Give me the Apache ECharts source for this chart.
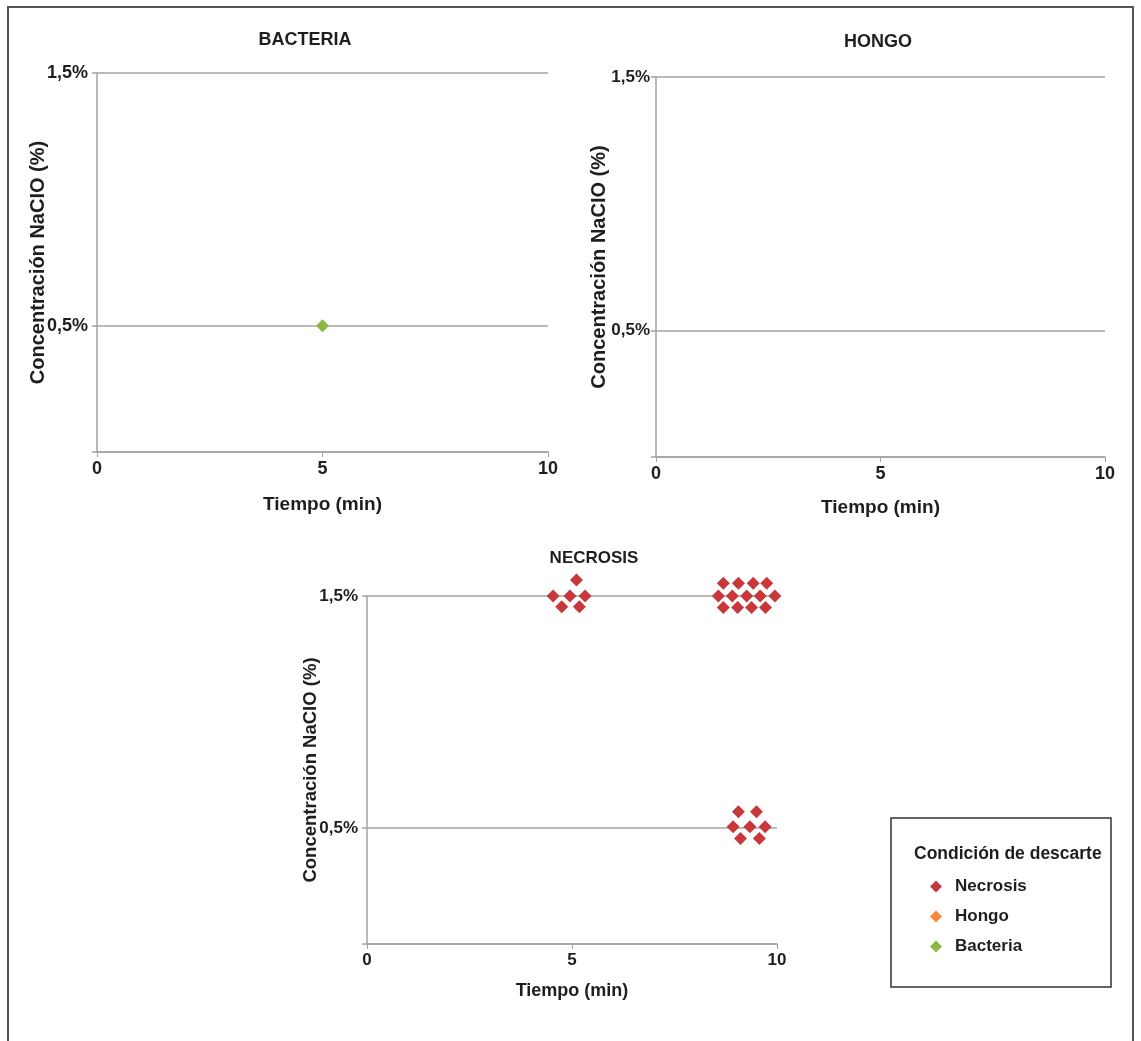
<!DOCTYPE html>
<html>
<head>
<meta charset="utf-8">
<script src="https://cdn.jsdelivr.net/npm/echarts@6/dist/echarts.min.js"></script>
<style>
html,body{margin:0;padding:0;background:#fff;}
#chart{width:1141px;height:1041px;}
</style>
</head>
<body>
<div id="chart"></div>
<script>
// ---- data ----
const panelTitles = ['BACTERIA', 'HONGO', 'NECROSIS'];
const seriesNames = ['Necrosis', 'Hongo', 'Bacteria'];
const xTickLabels = ['0', '5', '10'];
const yTickValues = [0.5, 1.5];
const yTickLabels = ['0,5%', '1,5%'];
const xAxisTitle = 'Tiempo (min)';
const yAxisTitle = 'Concentración NaCIO (%)';
const legendTitle = 'Condición de descarte';

const bacteriaTime = [5];
const bacteriaConc = [0.5];

const hongoTime = [];
const hongoConc = [];

// jittered necrosis observations (time, concentration)
const necrosisTime = [
  5.11, 4.54, 4.95, 5.32, 4.75, 5.18,
  8.69, 9.06, 9.42, 9.75,
  8.57, 8.91, 9.26, 9.59, 9.95,
  8.69, 9.04, 9.38, 9.72,
  9.06, 9.50,
  8.93, 9.34, 9.71,
  9.11, 9.57
];
const necrosisConc = [
  1.569, 1.5, 1.5, 1.5, 1.454, 1.454,
  1.555, 1.555, 1.555, 1.555,
  1.5, 1.5, 1.5, 1.5, 1.5,
  1.45, 1.45, 1.45, 1.45,
  0.57, 0.57,
  0.505, 0.505, 0.505,
  0.455, 0.455
];

const colors = { Necrosis: '#c8383b', Hongo: '#f5883a', Bacteria: '#8ab83f' };

// ---- chart ----
const FONT = '"Liberation Sans", Arial, sans-serif';
const AXIS_COLOR = '#a3a3a3';
const TEXT_COLOR = '#1e1e1e';

function zip(a, b) { return a.map((v, i) => [v, b[i]]); }

const grids = [
  { left: 97, top: 73, width: 451, height: 379 },
  { left: 656, top: 77, width: 449, height: 380 },
  { left: 367, top: 596, width: 410, height: 348 }
];
const yNameGaps = [49, 47, 47];
const xNameGaps = [43, 41, 38];
const yNameSizes = [20, 20, 18.5];
const xNameSizes = [19, 19, 18];
const tickSizes = [18, 18, 17];
const yTickSizes = [18, 17, 17];
const yLabelMargins = [9, 6, 9];
const titleSizes = [18, 18, 17];

const xAxes = grids.map((g, i) => ({
  gridIndex: i, type: 'value', min: 0, max: 10, interval: 5,
  axisLine: { show: true, lineStyle: { color: AXIS_COLOR, width: 1.5 } },
  axisTick: { show: true, length: 5, lineStyle: { color: AXIS_COLOR, width: 1 } },
  splitLine: { show: false },
  axisLabel: {
    margin: 8, color: TEXT_COLOR, fontFamily: FONT, fontWeight: 'bold', fontSize: tickSizes[i],
    formatter: v => xTickLabels[[0, 5, 10].indexOf(v)] ?? ''
  },
  name: xAxisTitle, nameLocation: 'middle', nameGap: xNameGaps[i], nameMoveOverlap: false,
  nameTextStyle: { color: TEXT_COLOR, fontFamily: FONT, fontWeight: 'bold', fontSize: xNameSizes[i] }
}));

const yAxes = grids.map((g, i) => ({
  gridIndex: i, type: 'value', min: 0, max: 1.5,
  axisLine: { show: true, lineStyle: { color: AXIS_COLOR, width: 1.5 } },
  axisTick: { show: true, length: 5, customValues: [0].concat(yTickValues), lineStyle: { color: AXIS_COLOR, width: 1.5 } },
  splitLine: { show: true, lineStyle: { color: AXIS_COLOR, width: 1.5 } },
  axisLabel: {
    customValues: yTickValues, margin: yLabelMargins[i], color: TEXT_COLOR, fontFamily: FONT,
    fontWeight: 'bold', fontSize: yTickSizes[i],
    formatter: v => yTickLabels[yTickValues.indexOf(v)] ?? ''
  },
  name: yAxisTitle, nameLocation: 'middle', nameGap: yNameGaps[i], nameMoveOverlap: false,
  nameTextStyle: { color: TEXT_COLOR, fontFamily: FONT, fontWeight: 'bold', fontSize: yNameSizes[i] }
}));

const titleCenters = [[305, 40], [878, 42], [594, 558]];

const option = {
  backgroundColor: '#ffffff',
  animation: false,
  grid: grids,
  xAxis: xAxes,
  yAxis: yAxes,
  title: {
    text: legendTitle, left: 909, top: 840,
    textStyle: { color: TEXT_COLOR, fontFamily: FONT, fontWeight: 'bold', fontSize: 17.5 }
  },
  legend: {
    orient: 'vertical', left: 925, top: 873, itemGap: 13,
    itemWidth: 12, itemHeight: 12,
    data: seriesNames.map(n => ({ name: n, icon: 'diamond' })),
    textStyle: { color: TEXT_COLOR, fontFamily: FONT, fontWeight: 'bold', fontSize: 17, padding: [0, 0, 0, 8] },
    selectedMode: false
  },
  series: [
    {
      name: 'Necrosis', type: 'scatter', xAxisIndex: 2, yAxisIndex: 2, clip: false,
      symbol: 'diamond', symbolSize: 13,
      itemStyle: { color: colors.Necrosis, opacity: 1 },
      data: zip(necrosisTime, necrosisConc)
    },
    {
      name: 'Hongo', type: 'scatter', xAxisIndex: 1, yAxisIndex: 1, clip: false,
      symbol: 'diamond', symbolSize: 13,
      itemStyle: { color: colors.Hongo, opacity: 1 },
      data: zip(hongoTime, hongoConc)
    },
    {
      name: 'Bacteria', type: 'scatter', xAxisIndex: 0, yAxisIndex: 0, clip: false,
      symbol: 'diamond', symbolSize: 13,
      itemStyle: { color: colors.Bacteria, opacity: 1 },
      data: zip(bacteriaTime, bacteriaConc)
    }
  ],
  graphic: [
    { type: 'rect', shape: { x: 8, y: 7, width: 1125, height: 1100 },
      style: { fill: 'none', stroke: '#555555', lineWidth: 2 }, silent: true },
    { type: 'rect', shape: { x: 891, y: 818, width: 220, height: 169 },
      style: { fill: 'none', stroke: '#333333', lineWidth: 1.5 }, silent: true }
  ].concat(panelTitles.map((t, i) => ({
    type: 'text', x: titleCenters[i][0], y: titleCenters[i][1], silent: true,
    style: { text: t, fill: TEXT_COLOR, font: 'bold ' + titleSizes[i] + 'px ' + FONT, align: 'center', verticalAlign: 'middle' }
  })))
};

const chart = echarts.init(document.getElementById('chart'), null, { renderer: 'canvas' });
chart.setOption(option);
</script>
</body>
</html>
